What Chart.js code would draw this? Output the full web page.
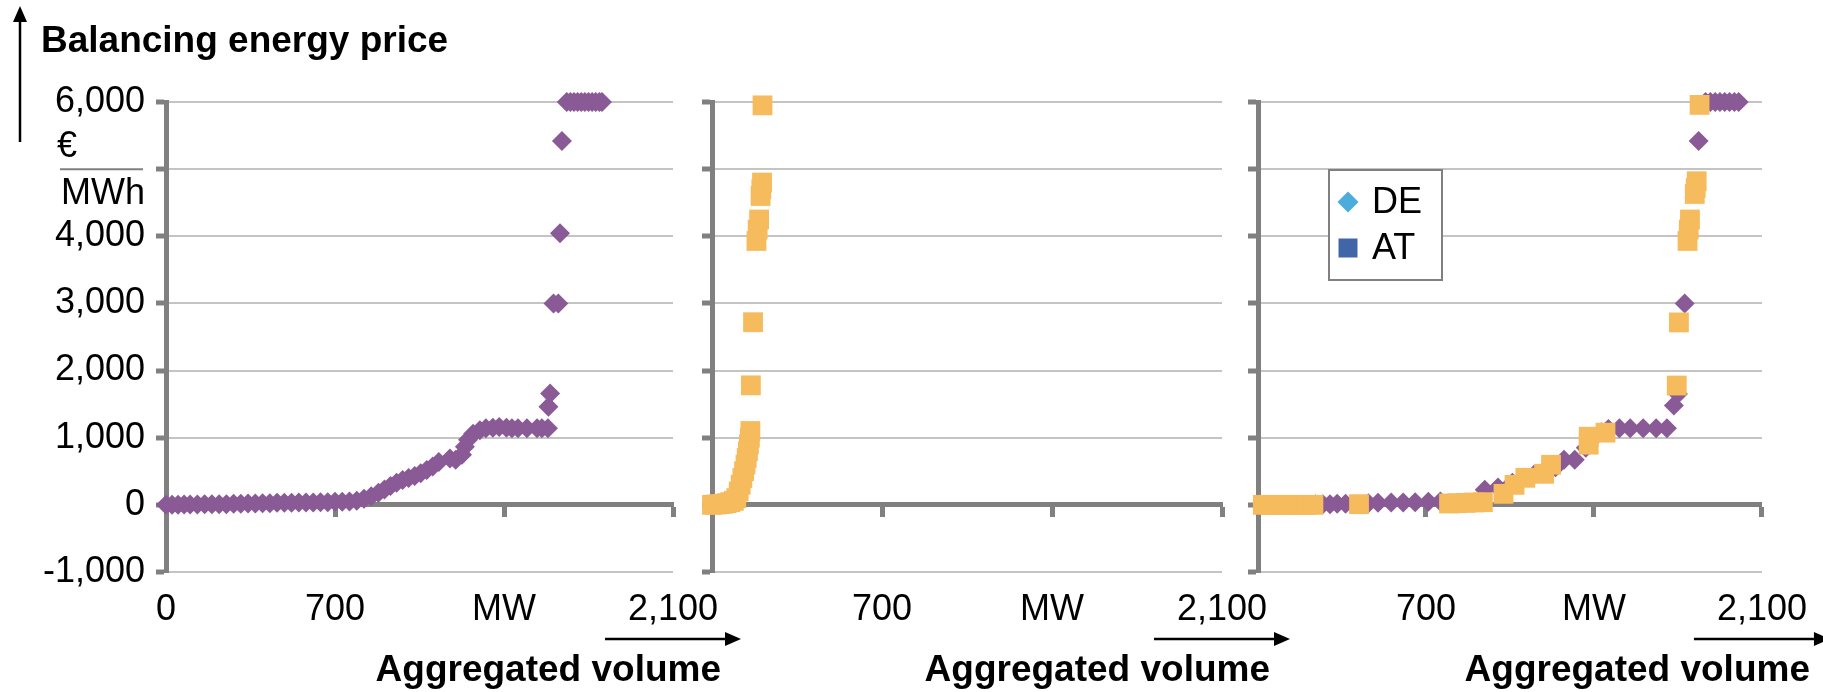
<!DOCTYPE html>
<html>
<head>
<meta charset="utf-8">
<script src="https://cdn.jsdelivr.net/npm/chart.js@4"></script>
<style>
  body { margin: 0; background: #fff; }
  #wrap { position: relative; width: 1823px; height: 692px; }
  #wrap canvas { position: absolute; left: 0; top: 0; }
</style>
</head>
<body>
<div id="wrap">
  <canvas id="panel-de" width="1823" height="692"></canvas>
  <canvas id="panel-at" width="1823" height="692"></canvas>
  <canvas id="panel-mix" width="1823" height="692"></canvas>
</div>
<script>
// Axis ticks
const xTicks = [0, 700, 1400, 2100];
const xLabelsFirst = ['0', '700', 'MW', '2,100'];
const xLabelsOther = ['', '700', 'MW', '2,100'];
const yMin = -1000;
const yMax = 6000;

// DE merit order (left panel)
const deVolume = [0, 25, 50, 75, 100, 130, 160, 190, 220, 250, 280, 310, 340, 370, 400, 430, 460, 490, 520, 550,
  580, 610, 640, 670, 700, 730, 760, 790, 820, 850, 880, 905, 930, 955, 980, 1005, 1030, 1055, 1080, 1105,
  1130, 1176, 1200, 1226, 1238, 1251, 1272, 1300, 1325, 1354, 1380, 1410, 1433, 1458, 1495, 1537, 1557, 1582, 1584, 1591,
  1605, 1625, 1632, 1640, 1660, 1675, 1690, 1705, 1720, 1735, 1750, 1765, 1780, 1795, 1806];
const dePrice = [0, 0, 0, 5, 5, 5, 10, 10, 10, 10, 15, 15, 20, 20, 25, 25, 30, 30, 30, 35,
  35, 35, 40, 40, 45, 45, 50, 60, 90, 130, 180, 230, 280, 330, 370, 400, 430, 470, 520, 570,
  640, 690, 672, 746, 866, 970, 1060, 1110, 1140, 1150, 1160, 1150, 1140, 1140, 1140, 1140, 1140, 1140, 1463, 1657,
  3000, 3000, 4045, 5420, 6000, 6000, 6000, 6000, 6000, 6000, 6000, 6000, 6000, 6000, 6000];

// AT merit order (middle panel)
const atVolume = [0, 15, 30, 45, 60, 75, 90, 100, 110, 118, 125, 132, 138, 143, 148, 152, 156, 158, 160, 169,
  183, 188, 194, 200, 203, 206, 208];
const atPrice = [0, 5, 10, 15, 25, 40, 60, 100, 200, 300, 400, 500, 600, 700, 800, 900, 1000, 1100, 1780, 2720,
  3930, 4100, 4250, 4600, 4700, 4800, 5950];

// Common merit order (right panel)
const mixDeVolume = [240, 270, 300, 330, 365, 460, 500, 555, 605, 655, 710, 760, 945, 1000, 1060, 1150, 1240, 1275, 1320, 1366,
  1400, 1430, 1460, 1506, 1551, 1605, 1659, 1704, 1733, 1750, 1778, 1790, 1836, 1865, 1885, 1905, 1925, 1945, 1965, 1985, 2003];
const mixDePrice = [10, 10, 10, 15, 15, 25, 30, 35, 35, 40, 45, 50, 224, 260, 330, 450, 560, 672, 672, 851,
  1000, 1080, 1130, 1140, 1140, 1140, 1140, 1140, 1478, 1650, 3000, 4045, 5420, 6000, 6000, 6000, 6000, 6000, 6000, 6000, 6000];
const mixAtVolume = [20, 50, 80, 110, 140, 170, 200, 231, 421, 796, 830, 865, 900, 937, 1023, 1069, 1114, 1192, 1221, 1378,
  1378, 1448, 1745, 1754, 1790, 1795, 1800, 1820, 1824, 1828, 1840];
const mixAtPrice = [0, 0, 0, 0, 0, 0, 0, 0, 10, 20, 25, 30, 35, 40, 164, 298, 403, 463, 597, 896,
  1015, 1075, 1777, 2717, 3930, 4100, 4250, 4630, 4720, 4820, 5957];

// Legend entries (as shown in the original, colours differ from the markers)
const legendLabels = ['DE', 'AT'];
const legendColors = ['#4BACDD', '#4066A8'];

const purple = '#8A5A96';
const orange = '#F5BB5C';
const axisGray = '#808080';
const gridGray = '#C4C4C4';
const fontFamily = '"Liberation Sans", Arial, Helvetica, sans-serif';

Chart.defaults.font.family = fontFamily;
Chart.defaults.color = '#000';

const toPoints = (xs, ys) => xs.map((x, i) => ({ x: x, y: ys[i] }));

function deSet(xs, ys) {
  return { label: 'DE', data: toPoints(xs, ys), pointStyle: 'rectRot', pointRadius: 10,
    backgroundColor: purple, borderWidth: 0, clip: false, order: 1 };
}
function atSet(xs, ys) {
  return { label: 'AT', data: toPoints(xs, ys), pointStyle: 'rect', pointRadius: 14,
    backgroundColor: orange, borderWidth: 0, clip: false, order: 0 };
}

function drawArrow(ctx, x1, y1, x2, y2) {
  const ang = Math.atan2(y2 - y1, x2 - x1);
  const head = 16, half = 7;
  ctx.beginPath();
  ctx.moveTo(x1, y1);
  ctx.lineTo(x2 - Math.cos(ang) * head, y2 - Math.sin(ang) * head);
  ctx.lineWidth = 2.5;
  ctx.strokeStyle = '#000';
  ctx.stroke();
  ctx.beginPath();
  ctx.moveTo(x2, y2);
  ctx.lineTo(x2 - Math.cos(ang) * head - Math.sin(ang) * half, y2 - Math.sin(ang) * head + Math.cos(ang) * half);
  ctx.lineTo(x2 - Math.cos(ang) * head + Math.sin(ang) * half, y2 - Math.sin(ang) * head - Math.cos(ang) * half);
  ctx.closePath();
  ctx.fillStyle = '#000';
  ctx.fill();
}

// Axis captions, unit fraction and legend box
const decorations = {
  id: 'decorations',
  afterDraw(chart, args, opts) {
    const ctx = chart.ctx;
    const area = chart.chartArea;
    ctx.save();

    drawArrow(ctx, area.right - 68, 639, area.right + 68, 639);
    ctx.font = 'bold 37px ' + fontFamily;
    ctx.fillStyle = '#000';
    ctx.textAlign = 'right';
    ctx.textBaseline = 'alphabetic';
    ctx.fillText('Aggregated volume', area.right + 48, 681);

    if (opts.title) {
      drawArrow(ctx, 20, 142, 20, 6);
      ctx.textAlign = 'left';
      ctx.fillText('Balancing energy price', 41, 52);

      const yUnit = chart.scales.y.getPixelForValue(5000);
      ctx.font = '36px ' + fontFamily;
      ctx.fillText('€', 57, yUnit - 12);
      ctx.textAlign = 'right';
      ctx.fillText('MWh', 145, yUnit + 35);
      ctx.beginPath();
      ctx.moveTo(60, yUnit);
      ctx.lineTo(143, yUnit);
      ctx.lineWidth = 2;
      ctx.strokeStyle = axisGray;
      ctx.stroke();
    }

    if (opts.legend) {
      const lx = area.left + 71, ly = 170, lw = 113, lh = 110;
      ctx.fillStyle = '#fff';
      ctx.fillRect(lx, ly, lw, lh);
      ctx.lineWidth = 2;
      ctx.strokeStyle = axisGray;
      ctx.strokeRect(lx, ly, lw, lh);
      ctx.font = '36px ' + fontFamily;
      ctx.textAlign = 'left';
      ctx.textBaseline = 'middle';
      legendLabels.forEach((label, i) => {
        const cx = lx + 19, cy = ly + 32 + i * 46;
        ctx.fillStyle = legendColors[i];
        ctx.beginPath();
        if (i === 0) {
          ctx.moveTo(cx - 10.5, cy);
          ctx.lineTo(cx, cy - 10.5);
          ctx.lineTo(cx + 10.5, cy);
          ctx.lineTo(cx, cy + 10.5);
          ctx.closePath();
        } else {
          ctx.rect(cx - 9.5, cy - 9.5, 19, 19);
        }
        ctx.fill();
        ctx.fillStyle = '#000';
        ctx.fillText(label, lx + 43, cy + 1);
      });
    }
    ctx.restore();
  }
};

function panelConfig(datasets, padLeft, padRight, firstPanel, extra) {
  const xLabels = firstPanel ? xLabelsFirst : xLabelsOther;
  return {
    type: 'scatter',
    data: { datasets: datasets },
    options: {
      responsive: false,
      animation: false,
      devicePixelRatio: 1,
      events: [],
      layout: { padding: { left: padLeft, right: padRight, top: 102, bottom: 60 } },
      plugins: {
        legend: { display: false },
        tooltip: { enabled: false },
        decorations: extra
      },
      scales: {
        x: {
          type: 'linear',
          position: 'bottom',
          min: 0,
          max: 2100,
          afterBuildTicks: s => { s.ticks = xTicks.map(v => ({ value: v })); },
          afterFit: s => { s.height = 60; },
          grid: { display: false, drawTicks: false },
          border: { display: false },
          ticks: {
            padding: 16,
            maxRotation: 0,
            font: { size: 36 },
            callback: (v) => xLabels[xTicks.indexOf(v)]
          }
        },
        x0: {
          type: 'linear',
          axis: 'x',
          position: { y: 0 },
          min: 0,
          max: 2100,
          afterBuildTicks: s => { s.ticks = xTicks.map(v => ({ value: v })); },
          grid: { drawOnChartArea: false, drawTicks: true, tickLength: 10, tickWidth: 5, tickColor: axisGray },
          border: { color: axisGray, width: 5 },
          ticks: { display: false }
        },
        y: {
          type: 'linear',
          position: 'left',
          min: yMin,
          max: yMax,
          afterFit: s => { s.width = 166; },
          grid: { color: gridGray, lineWidth: 2, drawTicks: true, tickLength: 10, tickWidth: 5, tickColor: axisGray },
          border: { color: axisGray, width: 5 },
          ticks: {
            display: firstPanel,
            stepSize: 1000,
            padding: 11,
            font: { size: 36 },
            callback: v => (v === 5000 ? '' : v.toLocaleString('en-US'))
          }
        }
      }
    },
    plugins: [decorations]
  };
}

new Chart(document.getElementById('panel-de'),
  panelConfig([deSet(deVolume, dePrice)], 0, 1150, true, { title: true }));
new Chart(document.getElementById('panel-at'),
  panelConfig([atSet(atVolume, atPrice)], 546, 601, false, {}));
new Chart(document.getElementById('panel-mix'),
  panelConfig([deSet(mixDeVolume, mixDePrice), atSet(mixAtVolume, mixAtPrice)], 1092, 56, false, { legend: true }));
</script>
</body>
</html>
